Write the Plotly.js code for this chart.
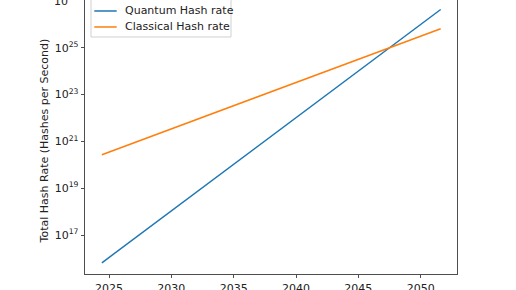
<!DOCTYPE html>
<html>
<head>
<meta charset="utf-8">
<script src="https://cdn.plot.ly/plotly-3.0.1.min.js"></script>
<style>html,body{margin:0;padding:0;background:#fff;}#chart{width:516px;height:290px;}</style>
</head>
<body>
<div id="chart"></div>
<script>
// Data
const years = [2024.43, 2051.6];
const quantumHashRate = [6.5e15, 4.3e26];
const classicalHashRate = [2.7e20, 6.5e25];
const seriesNames = ["Quantum Hash rate", "Classical Hash rate"];
const seriesColors = ["#1f77b4", "#ff7f0e"];
const yTickVals = [1e17, 1e19, 1e21, 1e23, 1e25];
const yTickText = ["10<sup>17</sup>", "10<sup>19</sup>", "10<sup>21</sup>", "10<sup>23</sup>", "10<sup>25</sup>"];
const topTickExp = 27;
const topTickText = "10<sup>27</sup>";
const xTickVals = [2025, 2030, 2035, 2040, 2045, 2050];

const font = {family: "DejaVu Sans", size: 11, color: "#222"};
const traces = [
  {x: years, y: quantumHashRate, name: seriesNames[0], mode: "lines", line: {color: seriesColors[0], width: 1.5}},
  {x: years, y: classicalHashRate, name: seriesNames[1], mode: "lines", line: {color: seriesColors[1], width: 1.5}}
];

// legend drawn as a box, line samples and labels (paper coordinates)
const legendRows = [0.9599, 0.9015];
const shapes = [
  {type: "line", xref: "paper", yref: "y", x0: -0.0094, x1: 0, y0: topTickExp, y1: topTickExp,
   line: {color: "#222", width: 0.8}},
  {type: "rect", xref: "paper", yref: "paper", x0: 0.0161, x1: 0.3925, y0: 0.865, y1: 1.004,
   fillcolor: "rgba(255,255,255,0.8)", line: {color: "#d0d0d0", width: 1}}
];
const annotations = [
  {text: "Total Hash Rate (Hashes per Second)", xref: "paper", yref: "paper", x: -0.108, y: 0.487,
   xanchor: "center", yanchor: "middle", textangle: -90, showarrow: false, font: font},
  {text: topTickText, xref: "paper", yref: "y", x: -0.0145, y: topTickExp, xanchor: "right", yanchor: "middle",
   showarrow: false, font: font}
];
seriesNames.forEach((name, i) => {
  shapes.push({type: "line", xref: "paper", yref: "paper", x0: 0.025, x1: 0.0852, y0: legendRows[i], y1: legendRows[i],
               line: {color: seriesColors[i], width: 1.5}});
  annotations.push({text: name, xref: "paper", yref: "paper", x: 0.103, y: legendRows[i], xanchor: "left",
                    yanchor: "middle", showarrow: false, font: font});
});

const layout = {
  width: 516, height: 290,
  margin: {l: 85, r: 59, t: 0, b: 16, pad: 0},
  paper_bgcolor: "#fff", plot_bgcolor: "#fff",
  font: font,
  showlegend: false,
  xaxis: {range: [2023.075, 2052.91], tickvals: xTickVals, ticks: "outside", ticklen: 3.5, tickwidth: 0.8,
          tickcolor: "#222", showgrid: false, zeroline: false, showline: true, linecolor: "#222", linewidth: 0.8,
          mirror: false, tickfont: font},
  yaxis: {type: "log", range: [15.334, 27.04], tickvals: yTickVals, ticktext: yTickText, ticks: "outside",
          ticklen: 3.5, tickwidth: 0.8, tickcolor: "#222", showgrid: false, zeroline: false, showline: true,
          linecolor: "#222", linewidth: 0.8, mirror: true, tickfont: font},
  shapes: shapes,
  annotations: annotations
};
Plotly.newPlot("chart", traces, layout, {displayModeBar: false, staticPlot: true});
</script>
</body>
</html>
